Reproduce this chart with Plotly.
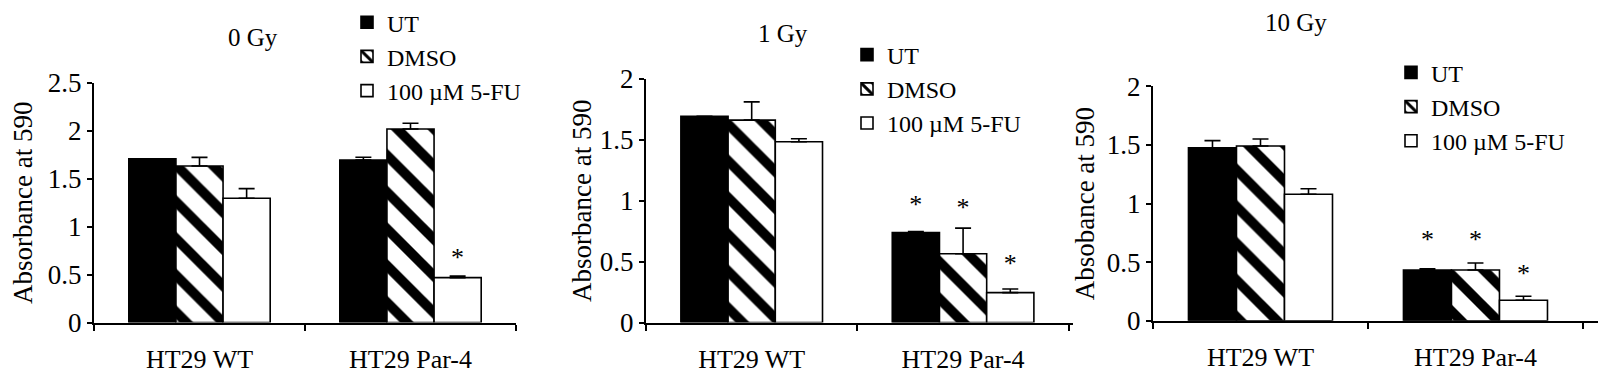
import plotly.graph_objects as go

categories = ["HT29 WT", "HT29 Par-4"]
series = ["UT", "DMSO", "100 \u00b5M 5-FU"]
panel_titles = ["0 Gy", "1 Gy", "10 Gy"]
y_titles = ["Absorbance at 590", "Absorbance at 590", "Absobance at 590"]

# 0 Gy
ut_0 = [1.71, 1.695]
dmso_0 = [1.634, 2.02]
fu_0 = [1.298, 0.469]
ut_0_err = [0.0, 0.03]
dmso_0_err = [0.09, 0.06]
fu_0_err = [0.10, 0.017]
ut_0_star = [None, None]
dmso_0_star = [None, None]
fu_0_star = [None, 0.66]

# 1 Gy
ut_1 = [1.693, 0.738]
dmso_1 = [1.661, 0.565]
fu_1 = [1.483, 0.245]
ut_1_err = [0.0, 0.008]
dmso_1_err = [0.15, 0.21]
fu_1_err = [0.025, 0.03]
ut_1_star = [None, 0.95]
dmso_1_star = [None, 0.93]
fu_1_star = [None, 0.47]

# 10 Gy
ut_10 = [1.477, 0.434]
dmso_10 = [1.491, 0.434]
fu_10 = [1.08, 0.176]
ut_10_err = [0.06, 0.011]
dmso_10_err = [0.06, 0.06]
fu_10_err = [0.047, 0.034]
ut_10_star = [None, 0.68]
dmso_10_star = [None, 0.68]
fu_10_star = [None, 0.39]

y_ranges = [[0, 2.5], [0, 2], [0, 2]]

panels = [
    ([ut_0, dmso_0, fu_0], [ut_0_err, dmso_0_err, fu_0_err], [ut_0_star, dmso_0_star, fu_0_star]),
    ([ut_1, dmso_1, fu_1], [ut_1_err, dmso_1_err, fu_1_err], [ut_1_star, dmso_1_star, fu_1_star]),
    ([ut_10, dmso_10, fu_10], [ut_10_err, dmso_10_err, fu_10_err], [ut_10_star, dmso_10_star, fu_10_star]),
]

W, H = 1606, 373
FONT = "Liberation Serif, Times New Roman, serif"
FS = 26
FS_YTICK = 27
FS_YTITLE = 27

# layout geometry (pixels)
x_dom_px = [(94, 516), (646, 1073), (1153, 1598)]
y_dom_px = [(321.7, 78.3), (321.7, 74.0), (320.0, 81.7)]
x_ranges = [[-0.5, 1.5], [-0.5, 1.52], [-0.5, 1.57]]
title_pos_px = [(253, 32), (783, 28), (1296, 17)]
legend_pos_px = [(347, -6), (847, 27), (1391, 45)]
title_standoff = [7, 0, 4]

styles = [
    dict(color="black", pattern=None),
    dict(color="white", pattern=dict(shape="\\", fgcolor="black", bgcolor="white",
                                     size=26, solidity=0.38, fillmode="replace", fgopacity=1)),
    dict(color="white", pattern=None),
]

fig = go.Figure()
legend_names = ["legend", "legend2", "legend3"]

for p, (vals, errs, stars) in enumerate(panels):
    xa = "x" if p == 0 else f"x{p+1}"
    ya = "y" if p == 0 else f"y{p+1}"
    for s in range(3):
        marker = dict(color=styles[s]["color"], line=dict(color="black", width=1.6))
        if styles[s]["pattern"] is not None:
            marker["pattern"] = styles[s]["pattern"]
        fig.add_trace(go.Bar(
            x=categories, y=vals[s], name=series[s],
            marker=marker,
            error_y=dict(type="data", array=errs[s], arrayminus=[0] * len(errs[s]),
                         symmetric=False, color="black", thickness=1.6, width=8),
            xaxis=xa, yaxis=ya, legend=legend_names[p], showlegend=True,
            offsetgroup=str(s),
        ))
    for s in range(3):
        ys = [v if v is not None else 0 for v in stars[s]]
        txt = ["*" if v is not None else "" for v in stars[s]]
        fig.add_trace(go.Scatter(
            x=categories, y=ys, text=txt, mode="text",
            textfont=dict(family=FONT, size=26, color="black"),
            textposition="middle center",
            xaxis=xa, yaxis=ya, showlegend=False, offsetgroup=str(s),
            hoverinfo="skip",
        ))

layout = dict(
    width=W, height=H,
    margin=dict(l=0, r=0, t=0, b=0),
    paper_bgcolor="white", plot_bgcolor="white",
    barmode="group", bargap=0.33, bargroupgap=0,
    scattermode="group", scattergap=0.33,
    font=dict(family=FONT, size=FS, color="black"),
    showlegend=True,
)

annotations = []
for p in range(3):
    xk = "xaxis" if p == 0 else f"xaxis{p+1}"
    yk = "yaxis" if p == 0 else f"yaxis{p+1}"
    ya_name = "y" if p == 0 else f"y{p+1}"
    xa_name = "x" if p == 0 else f"x{p+1}"
    x0, x1 = x_dom_px[p]
    yb, yt = y_dom_px[p]
    layout[xk] = dict(
        domain=[x0 / W, x1 / W], anchor=ya_name, type="category",
        range=x_ranges[p], showline=True, linecolor="black", linewidth=2,
        ticks="outside", tickson="boundaries", ticklen=6, tickwidth=2, tickcolor="black",
        showgrid=False, zeroline=False, ticklabelstandoff=12,
        tickfont=dict(family=FONT, size=FS, color="black"), automargin=False, fixedrange=True,
    )
    layout[yk] = dict(
        domain=[1 - yb / H, 1 - yt / H], anchor=xa_name, range=y_ranges[p],
        dtick=0.5, showline=True, linecolor="black", linewidth=2,
        ticks="outside", ticklen=5, tickwidth=2, tickcolor="black",
        showgrid=False, zeroline=False,
        tickfont=dict(family=FONT, size=FS_YTICK, color="black"),
        title=dict(text=y_titles[p], font=dict(family=FONT, size=FS_YTITLE, color="black"),
                   standoff=title_standoff[p]),
        automargin=False, fixedrange=True,
    )
    tx, ty = title_pos_px[p]
    annotations.append(dict(
        text=panel_titles[p], x=tx / W, y=1 - ty / H, xref="paper", yref="paper",
        xanchor="center", yanchor="middle", showarrow=False,
        font=dict(family=FONT, size=25, color="black"),
    ))
    lx, ly = legend_pos_px[p]
    layout[legend_names[p]] = dict(
        x=lx / W, y=1 - ly / H, xanchor="left", yanchor="top",
        bgcolor="rgba(0,0,0,0)", borderwidth=0,
        font=dict(family=FONT, size=24, color="black"),
        itemwidth=30, tracegroupgap=0,
    )

layout["annotations"] = annotations
fig.update_layout(**layout)
fig.write_html("out.html", config={"displayModeBar": False},
               post_script="document.body.style.margin='0';document.body.style.padding='0';")
